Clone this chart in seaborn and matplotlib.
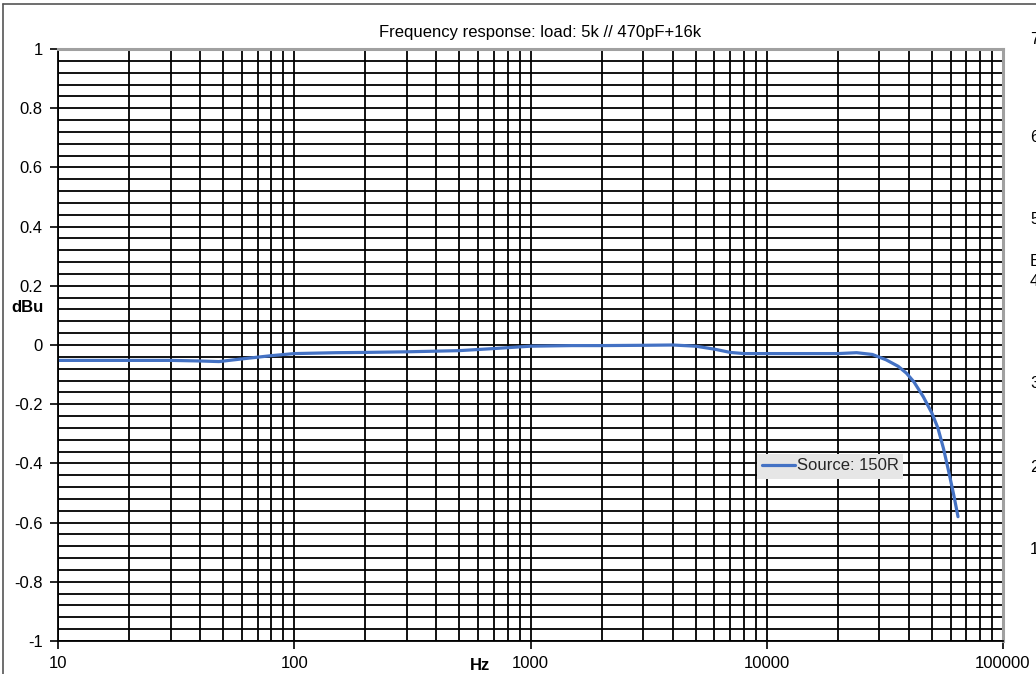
import numpy as np
import pandas as pd
import matplotlib
matplotlib.use("Agg")
import matplotlib.pyplot as plt
from matplotlib.lines import Line2D
from matplotlib.ticker import FixedLocator, NullFormatter
import seaborn as sns

# ---- data ----
freq_hz = [10, 20, 30, 40, 48, 60, 80, 100, 150, 200, 300, 500, 700, 1000, 1500,
           2000, 3000, 4000, 5000, 6000, 7000, 8000, 10000, 15000, 20000, 24000,
           28000, 32000, 36000, 39000, 42000, 46000, 50000, 53000, 56000, 59000,
           62000, 64500]
level_dbu = [-0.052, -0.052, -0.052, -0.054, -0.056, -0.047, -0.036, -0.029, -0.026,
             -0.025, -0.023, -0.019, -0.012, -0.004, -0.002, -0.002, -0.001, 0.000,
             -0.004, -0.014, -0.025, -0.029, -0.029, -0.029, -0.029, -0.026, -0.032,
             -0.050, -0.072, -0.095, -0.125, -0.175, -0.230, -0.280, -0.350, -0.430,
             -0.510, -0.580]
series_name = "Source: 150R"
title = "Frequency response: load: 5k // 470pF+16k"
x_ticks = [10, 100, 1000, 10000, 100000]
x_ticklabels = ["10", "100", "1000", "10000", "100000"]
y_ticks = [-1, -0.8, -0.6, -0.4, -0.2, 0, 0.2, 0.4, 0.6, 0.8, 1]
y_ticklabels = ["-1", "-0.8", "-0.6", "-0.4", "-0.2", "0", "0.2", "0.4", "0.6", "0.8", "1"]
right_fragments = [("7", 40), ("6", 138), ("5", 220), ("E", 262), ("4", 282),
                   ("3", 383), ("2", 467), ("1", 550)]

df = pd.DataFrame({"Hz": freq_hz, "dBu": level_dbu, "series": series_name})

sns.set_theme(style="white")
plt.rcParams["font.family"] = ["Liberation Sans", "DejaVu Sans"]

FS = 12
W, H = 1036, 674
fig = plt.figure(figsize=(W / 100, H / 100), dpi=100)
fig.patch.set_facecolor("white")

L, R, T, B = 58, 1003, 49, 641
ax = fig.add_axes([L / W, 1 - B / H, (R - L) / W, (B - T) / H])

ax.set_xscale("log")
ax.set_xlim(10, 100000)
ax.set_ylim(-1, 1)

# grid
minor_x = [m * 10 ** e for e in range(1, 5) for m in range(2, 10)]
ax.xaxis.set_major_locator(FixedLocator(x_ticks))
ax.xaxis.set_minor_locator(FixedLocator(minor_x))
ax.xaxis.set_minor_formatter(NullFormatter())
ax.set_yticks(y_ticks)
ax.yaxis.set_minor_locator(FixedLocator(np.round(np.arange(-1, 1.0001, 0.04), 4)))
ax.grid(True, which="both", axis="both", color="black", linewidth=1.3)
ax.set_axisbelow(True)

sns.lineplot(data=df, x="Hz", y="dBu", hue="series", palette=["#4472C4"],
             linewidth=2.3, ax=ax, legend=True, estimator=None, sort=True)

ax.set_xticklabels(x_ticklabels)
ax.set_yticklabels(y_ticklabels)
ax.set_xlabel("")
ax.set_ylabel("")
ax.tick_params(axis="both", which="major", labelsize=FS, colors="black",
               length=6, width=1.2, direction="out", left=True, bottom=True)
ax.tick_params(axis="y", which="major", pad=5)
ax.tick_params(axis="x", which="major", pad=5)
ax.tick_params(axis="both", which="minor", length=0)
for lbl in ax.get_xticklabels() + ax.get_yticklabels():
    lbl.set_color("black")

for side in ["left", "bottom"]:
    ax.spines[side].set_color("black")
    ax.spines[side].set_linewidth(1.3)
for side in ["top", "right"]:
    ax.spines[side].set_color("#a0a0a0")
    ax.spines[side].set_linewidth(2.2)

leg = ax.legend(loc="center", bbox_to_anchor=((830 - L) / (R - L), (B - 466) / (B - T)),
                frameon=True, fontsize=FS, handlelength=2.0, handletextpad=0.1,
                borderpad=0.3, borderaxespad=0, fancybox=False)
leg.get_frame().set_facecolor("#e6e6e6")
leg.get_frame().set_edgecolor("none")
leg.get_frame().set_alpha(1)

fig.text(540 / W, 1 - 33 / H, title, ha="center", va="center", fontsize=FS, color="black")
fig.text(27 / W, 1 - 307 / H, "dBu", ha="center", va="center", fontsize=FS,
         fontweight="bold", color="black")
fig.text(480 / W, 1 - 665 / H, "Hz", ha="center", va="center", fontsize=FS,
         fontweight="bold", color="black")

for ch, yy in right_fragments:
    fig.text(1030 / W, 1 - yy / H, ch, ha="left", va="center", fontsize=FS,
             color="black", clip_on=False)

# outer chart frame (left and top visible)
fig.add_artist(Line2D([3 / W, 3 / W], [0, 1 - 4 / H], color="#555555", linewidth=1.2,
                      transform=fig.transFigure))
fig.add_artist(Line2D([3 / W, 1], [1 - 4 / H, 1 - 4 / H], color="#555555", linewidth=1.2,
                      transform=fig.transFigure))

fig.savefig("out.png", dpi=100)
